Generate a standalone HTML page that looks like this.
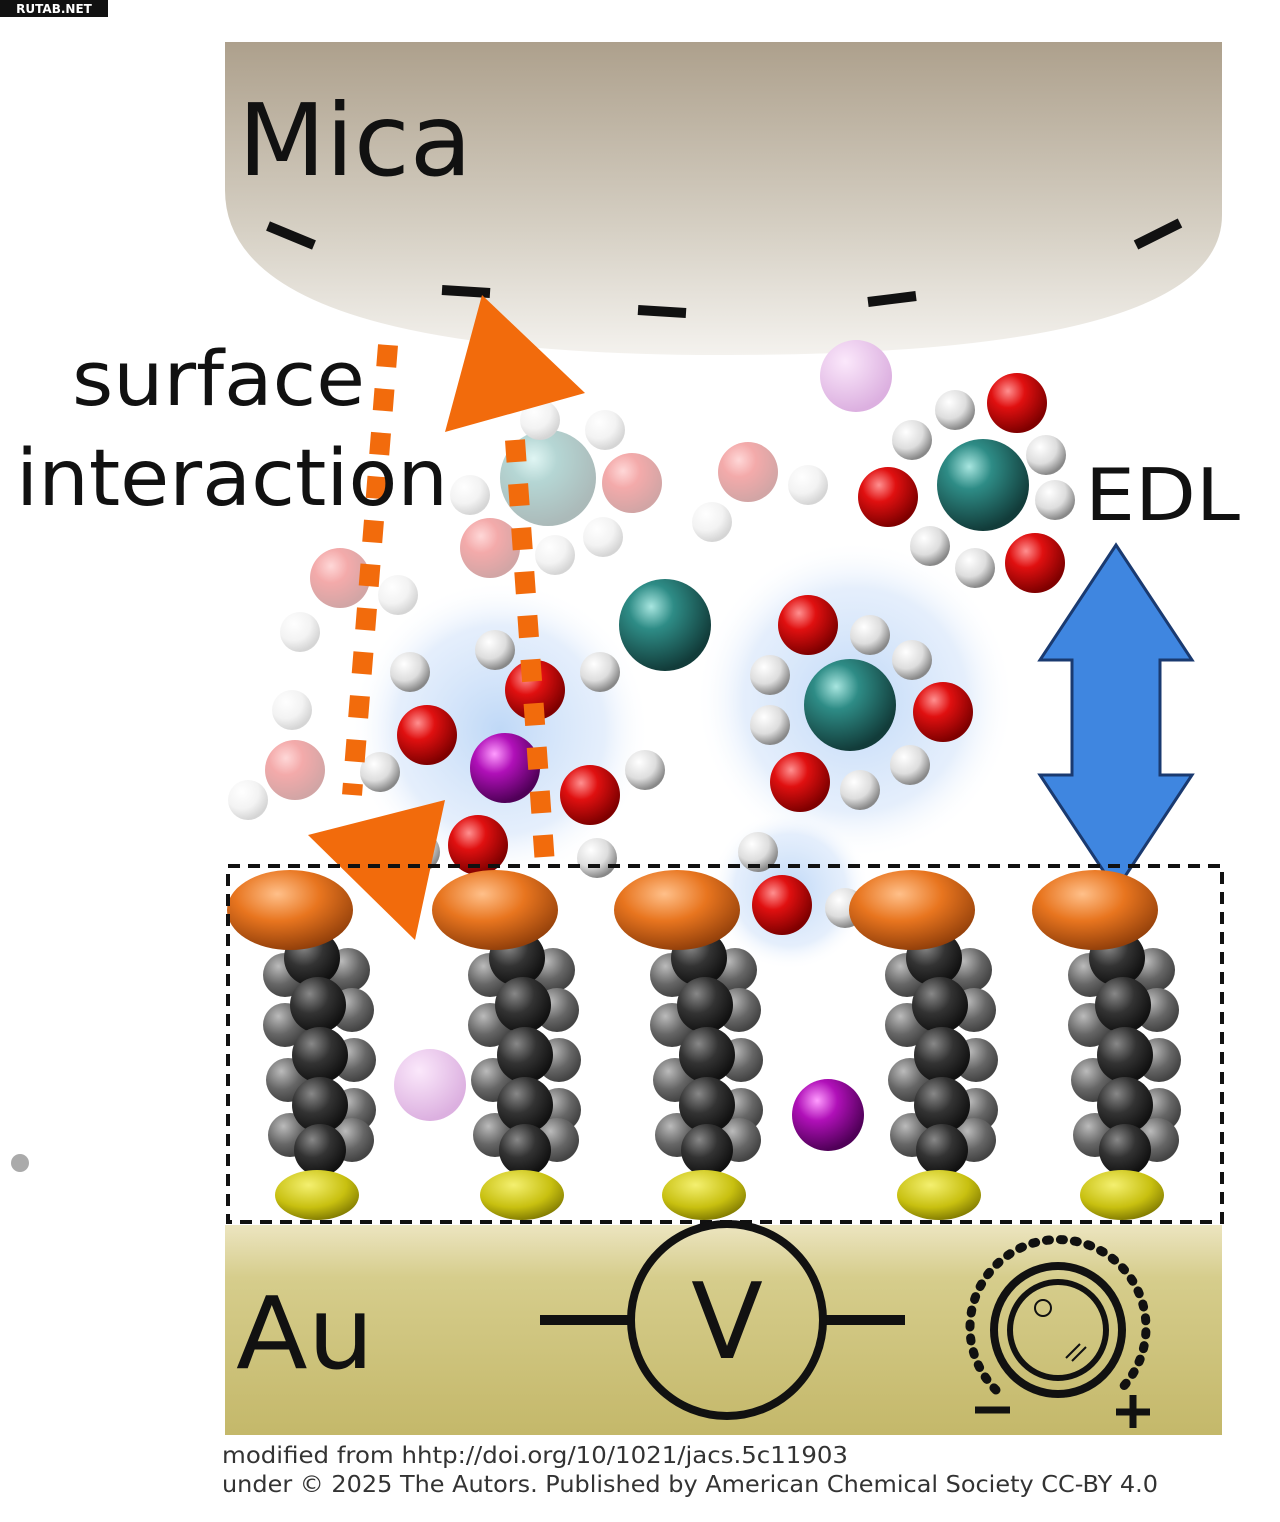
<!DOCTYPE html>
<html><head><meta charset="utf-8">
<style>
html,body{margin:0;padding:0;background:#fff;}
svg{display:block;}
text{font-family:"DejaVu Sans","Liberation Sans",sans-serif;}
</style></head>
<body>
<svg width="1280" height="1522" viewBox="0 0 1280 1522" xmlns="http://www.w3.org/2000/svg">
<defs>
<linearGradient id="mica" x1="0" y1="0" x2="0" y2="1">
<stop offset="0" stop-color="#ada08c"/><stop offset="0.6" stop-color="#d6d0c4"/><stop offset="1" stop-color="#f4f2ee"/>
</linearGradient>
<linearGradient id="au" x1="0" y1="0" x2="0" y2="1">
<stop offset="0" stop-color="#ece5c0"/><stop offset="0.25" stop-color="#d6cd8c"/><stop offset="1" stop-color="#c4b86a"/>
</linearGradient>
<radialGradient id="gBlack" cx="0.35" cy="0.3" r="0.7"><stop offset="0" stop-color="#888"/><stop offset="0.5" stop-color="#333"/><stop offset="1" stop-color="#111"/></radialGradient>
<radialGradient id="gGray" cx="0.35" cy="0.3" r="0.7"><stop offset="0" stop-color="#bbb"/><stop offset="0.6" stop-color="#666"/><stop offset="1" stop-color="#444"/></radialGradient>
<radialGradient id="gRed" cx="0.35" cy="0.3" r="0.7"><stop offset="0" stop-color="#ff9090"/><stop offset="0.4" stop-color="#e01010"/><stop offset="1" stop-color="#800000"/></radialGradient>
<radialGradient id="gWhite" cx="0.35" cy="0.3" r="0.7"><stop offset="0" stop-color="#fff"/><stop offset="0.6" stop-color="#ddd"/><stop offset="1" stop-color="#888"/></radialGradient>
<radialGradient id="gTeal" cx="0.35" cy="0.3" r="0.7"><stop offset="0" stop-color="#a8e6e0"/><stop offset="0.35" stop-color="#2e8c86"/><stop offset="1" stop-color="#123c3a"/></radialGradient>
<radialGradient id="gPurple" cx="0.35" cy="0.3" r="0.7"><stop offset="0" stop-color="#ff9cff"/><stop offset="0.4" stop-color="#b010b8"/><stop offset="1" stop-color="#500058"/></radialGradient>
<radialGradient id="gPink" cx="0.35" cy="0.3" r="0.7"><stop offset="0" stop-color="#fbe8fb"/><stop offset="1" stop-color="#dcb0e0"/></radialGradient>
<radialGradient id="gOrange" cx="0.4" cy="0.3" r="0.75"><stop offset="0" stop-color="#ffc08a"/><stop offset="0.45" stop-color="#e8751f"/><stop offset="1" stop-color="#8a3a08"/></radialGradient>
<radialGradient id="gYellow" cx="0.4" cy="0.3" r="0.75"><stop offset="0" stop-color="#f4f070"/><stop offset="0.6" stop-color="#c8c010"/><stop offset="1" stop-color="#7a7400"/></radialGradient>
<radialGradient id="glow" cx="0.5" cy="0.5" r="0.5"><stop offset="0" stop-color="#b8d4f6" stop-opacity="0.9"/><stop offset="0.7" stop-color="#d4e4fa" stop-opacity="0.6"/><stop offset="1" stop-color="#fff" stop-opacity="0"/></radialGradient>
</defs>

<rect x="0" y="0" width="108" height="17" fill="#111"/>
<text x="54" y="13" font-size="12" font-weight="bold" fill="#fff" text-anchor="middle">RUTAB.NET</text>

<path d="M225,42 H1222 V215 Q1222,355 723,355 Q225,355 225,190 Z" fill="url(#mica)"/>
<text x="238" y="175" font-size="100" fill="#111" textLength="234" lengthAdjust="spacingAndGlyphs">Mica</text>
<g stroke="#111" stroke-width="10">
<line x1="268" y1="226" x2="314" y2="245"/>
<line x1="442" y1="290" x2="490" y2="293"/>
<line x1="638" y1="310" x2="686" y2="313"/>
<line x1="868" y1="302" x2="916" y2="296"/>
<line x1="1136" y1="245" x2="1180" y2="223"/>
</g>

<circle cx="855" cy="700" r="160" fill="url(#glow)"/>
<circle cx="500" cy="730" r="150" fill="url(#glow)"/>
<circle cx="790" cy="890" r="80" fill="url(#glow)"/>

<g opacity="0.35">
<circle cx="548" cy="478" r="48" fill="url(#gTeal)"/>
<circle cx="632" cy="483" r="30" fill="url(#gRed)"/><circle cx="605" cy="430" r="20" fill="url(#gWhite)"/><circle cx="603" cy="537" r="20" fill="url(#gWhite)"/>
<circle cx="490" cy="548" r="30" fill="url(#gRed)"/><circle cx="470" cy="495" r="20" fill="url(#gWhite)"/><circle cx="555" cy="555" r="20" fill="url(#gWhite)"/>
<circle cx="540" cy="420" r="20" fill="url(#gWhite)"/>
<circle cx="748" cy="472" r="30" fill="url(#gRed)"/><circle cx="808" cy="485" r="20" fill="url(#gWhite)"/><circle cx="712" cy="522" r="20" fill="url(#gWhite)"/>
<circle cx="340" cy="578" r="30" fill="url(#gRed)"/><circle cx="398" cy="595" r="20" fill="url(#gWhite)"/><circle cx="300" cy="632" r="20" fill="url(#gWhite)"/>
<circle cx="295" cy="770" r="30" fill="url(#gRed)"/><circle cx="292" cy="710" r="20" fill="url(#gWhite)"/><circle cx="248" cy="800" r="20" fill="url(#gWhite)"/>
</g>
<circle cx="856" cy="376" r="36" fill="url(#gPink)"/>

<circle cx="983" cy="485" r="46" fill="url(#gTeal)"/>
<circle cx="955" cy="410" r="20" fill="url(#gWhite)"/><circle cx="1017" cy="403" r="30" fill="url(#gRed)"/><circle cx="1046" cy="455" r="20" fill="url(#gWhite)"/>
<circle cx="912" cy="440" r="20" fill="url(#gWhite)"/><circle cx="888" cy="497" r="30" fill="url(#gRed)"/><circle cx="930" cy="546" r="20" fill="url(#gWhite)"/>
<circle cx="1055" cy="500" r="20" fill="url(#gWhite)"/><circle cx="1035" cy="563" r="30" fill="url(#gRed)"/><circle cx="975" cy="568" r="20" fill="url(#gWhite)"/>

<circle cx="665" cy="625" r="46" fill="url(#gTeal)"/>
<circle cx="850" cy="705" r="46" fill="url(#gTeal)"/>
<circle cx="808" cy="625" r="30" fill="url(#gRed)"/><circle cx="870" cy="635" r="20" fill="url(#gWhite)"/><circle cx="770" cy="675" r="20" fill="url(#gWhite)"/>
<circle cx="943" cy="712" r="30" fill="url(#gRed)"/><circle cx="912" cy="660" r="20" fill="url(#gWhite)"/><circle cx="910" cy="765" r="20" fill="url(#gWhite)"/>
<circle cx="800" cy="782" r="30" fill="url(#gRed)"/><circle cx="770" cy="725" r="20" fill="url(#gWhite)"/><circle cx="860" cy="790" r="20" fill="url(#gWhite)"/>

<circle cx="505" cy="768" r="35" fill="url(#gPurple)"/>
<circle cx="535" cy="690" r="30" fill="url(#gRed)"/><circle cx="495" cy="650" r="20" fill="url(#gWhite)"/><circle cx="600" cy="672" r="20" fill="url(#gWhite)"/>
<circle cx="427" cy="735" r="30" fill="url(#gRed)"/><circle cx="410" cy="672" r="20" fill="url(#gWhite)"/><circle cx="380" cy="772" r="20" fill="url(#gWhite)"/>
<circle cx="590" cy="795" r="30" fill="url(#gRed)"/><circle cx="645" cy="770" r="20" fill="url(#gWhite)"/><circle cx="597" cy="858" r="20" fill="url(#gWhite)"/>
<circle cx="478" cy="845" r="30" fill="url(#gRed)"/><circle cx="420" cy="852" r="20" fill="url(#gWhite)"/>
<circle cx="782" cy="905" r="30" fill="url(#gRed)"/><circle cx="758" cy="852" r="20" fill="url(#gWhite)"/><circle cx="845" cy="908" r="20" fill="url(#gWhite)"/>

<g stroke="#f26b0c" stroke-width="20" stroke-dasharray="22 22" fill="none">
<line x1="388" y1="345" x2="352" y2="795"/>
<line x1="515" y1="440" x2="545" y2="865"/>
</g>
<polygon points="482,295 585,393 445,432" fill="#f26b0c"/>
<polygon points="308,835 445,800 415,940" fill="#f26b0c"/>

<text x="72" y="405" font-size="76" fill="#111" textLength="293" lengthAdjust="spacingAndGlyphs">surface</text>
<text x="16" y="505" font-size="78" fill="#111" textLength="432" lengthAdjust="spacingAndGlyphs">interaction</text>
<text x="1085" y="520" font-size="72" fill="#111" textLength="155" lengthAdjust="spacingAndGlyphs">EDL</text>

<polygon points="1116,545 1192,660 1160,660 1160,775 1192,775 1116,890 1040,775 1072,775 1072,660 1040,660" fill="#3f86e0" stroke="#1a3a70" stroke-width="3"/>

<g id="chains">
<g transform="translate(290,0)">
<circle cx="-5" cy="975" r="22" fill="url(#gGray)"/><circle cx="58" cy="970" r="22" fill="url(#gGray)"/>
<circle cx="-5" cy="1025" r="22" fill="url(#gGray)"/><circle cx="62" cy="1010" r="22" fill="url(#gGray)"/>
<circle cx="-2" cy="1080" r="22" fill="url(#gGray)"/><circle cx="64" cy="1060" r="22" fill="url(#gGray)"/>
<circle cx="0" cy="1135" r="22" fill="url(#gGray)"/><circle cx="64" cy="1110" r="22" fill="url(#gGray)"/>
<circle cx="62" cy="1140" r="22" fill="url(#gGray)"/>
<circle cx="22" cy="958" r="28" fill="url(#gBlack)"/><circle cx="28" cy="1005" r="28" fill="url(#gBlack)"/>
<circle cx="30" cy="1055" r="28" fill="url(#gBlack)"/><circle cx="30" cy="1105" r="28" fill="url(#gBlack)"/>
<circle cx="30" cy="1150" r="26" fill="url(#gBlack)"/>
<ellipse cx="27" cy="1195" rx="42" ry="25" fill="url(#gYellow)"/>
<ellipse cx="0" cy="910" rx="63" ry="40" fill="url(#gOrange)"/>
</g>
</g>
<use href="#chains" transform="translate(205,0)"/>
<use href="#chains" transform="translate(387,0)"/>
<use href="#chains" transform="translate(622,0)"/>
<use href="#chains" transform="translate(805,0)"/>

<circle cx="430" cy="1085" r="36" fill="url(#gPink)"/>
<circle cx="828" cy="1115" r="36" fill="url(#gPurple)"/>
<circle cx="20" cy="1163" r="9" fill="#aaa"/>

<rect x="228" y="866" width="994" height="356" fill="none" stroke="#111" stroke-width="4" stroke-dasharray="12 8"/>

<rect x="225" y="1225" width="997" height="210" fill="url(#au)"/>
<text x="236" y="1368" font-size="100" fill="#111" textLength="138" lengthAdjust="spacingAndGlyphs">Au</text>
<line x1="540" y1="1320" x2="632" y2="1320" stroke="#111" stroke-width="10"/>
<line x1="822" y1="1320" x2="905" y2="1320" stroke="#111" stroke-width="10"/>
<circle cx="727" cy="1320" r="96" fill="none" stroke="#111" stroke-width="8"/>
<text x="727" y="1358" font-size="105" fill="#111" text-anchor="middle">V</text>

<path d="M996,1390 A88,88 0 1,1 1120,1390" fill="none" stroke="#111" stroke-width="9" stroke-dasharray="3 11" stroke-linecap="round"/>
<circle cx="1058" cy="1330" r="64" fill="none" stroke="#111" stroke-width="8"/>
<circle cx="1058" cy="1330" r="48" fill="none" stroke="#111" stroke-width="6"/>
<circle cx="1043" cy="1308" r="8" fill="none" stroke="#111" stroke-width="2"/>
<line x1="1066" y1="1358" x2="1080" y2="1344" stroke="#111" stroke-width="2"/>
<line x1="1072" y1="1361" x2="1086" y2="1347" stroke="#111" stroke-width="2"/>
<line x1="975" y1="1410" x2="1010" y2="1410" stroke="#111" stroke-width="7"/>
<line x1="1116" y1="1412" x2="1150" y2="1412" stroke="#111" stroke-width="7"/>
<line x1="1133" y1="1395" x2="1133" y2="1428" stroke="#111" stroke-width="7"/>

<text x="222" y="1463" font-size="23" fill="#333" textLength="626" lengthAdjust="spacingAndGlyphs">modified from hhtp://doi.org/10/1021/jacs.5c11903</text>
<text x="222" y="1492" font-size="23" fill="#333" textLength="936" lengthAdjust="spacingAndGlyphs">under © 2025 The Autors. Published by American Chemical Society CC-BY 4.0</text>
</svg>
</body></html>
